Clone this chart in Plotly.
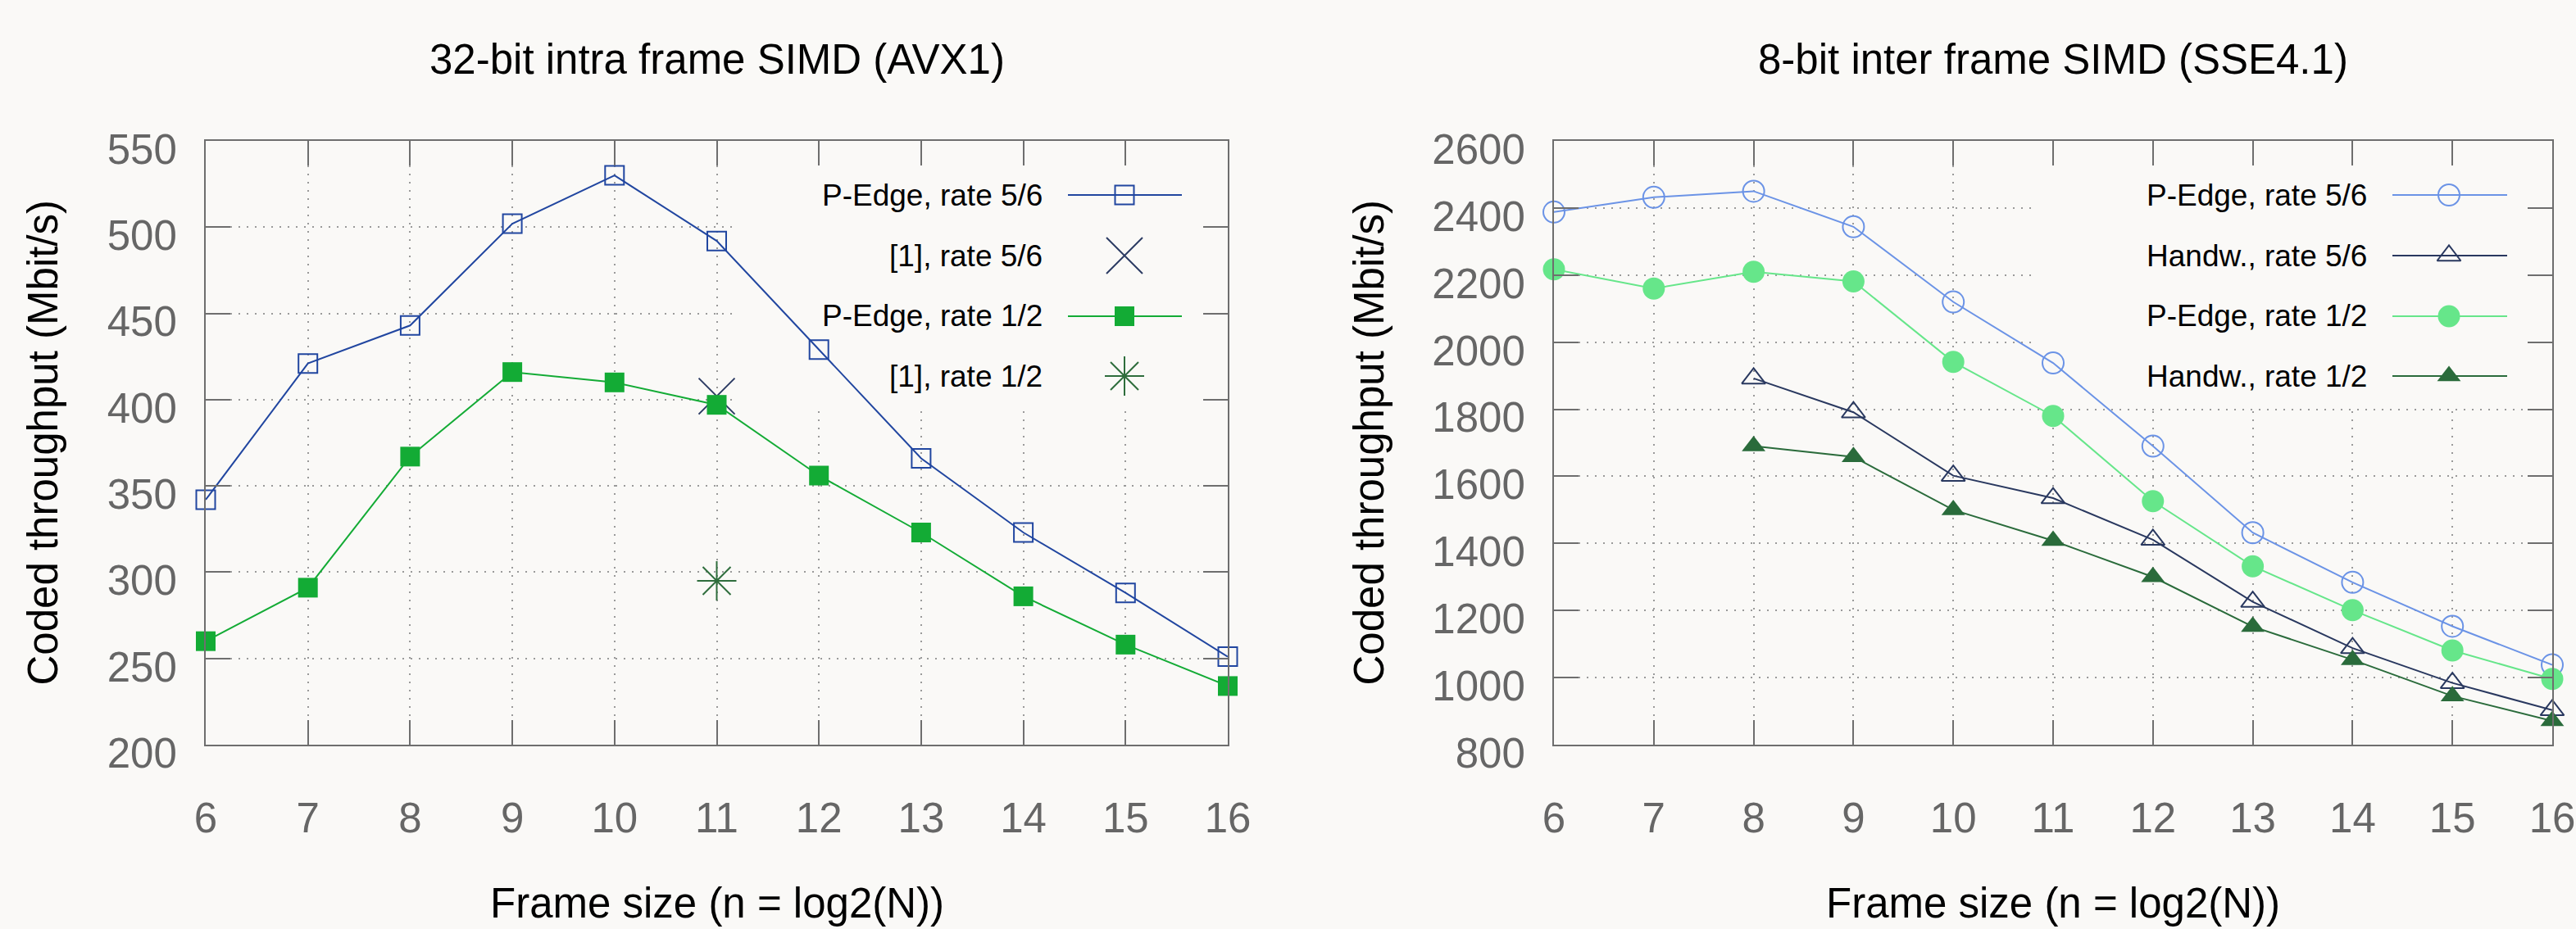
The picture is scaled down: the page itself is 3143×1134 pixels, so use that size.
import plotly.graph_objects as go

# ---------------- data ----------------
frame_sizes = [6, 7, 8, 9, 10, 11, 12, 13, 14, 15, 16]

# left chart: 32-bit intra frame SIMD (AVX1)
avx_pedge_56 = [342, 421, 443, 502, 530, 492, 429, 366, 323, 288, 251]
avx_pedge_12 = [260, 291, 367, 416, 410, 397, 356, 323, 286, 258, 234]
ref_x = [11]
ref_56 = [402]
ref_12 = [295]

# right chart: 8-bit inter frame SIMD (SSE4.1)
sse_pedge_56 = [2388, 2432, 2450, 2344, 2120, 1938, 1690, 1432, 1284, 1153, 1038]
sse_pedge_12 = [2217, 2160, 2210, 2181, 1941, 1780, 1526, 1332, 1201, 1081, 996]
handw_x = [8, 9, 10, 11, 12, 13, 14, 15, 16]
handw_56 = [1892, 1791, 1602, 1535, 1411, 1226, 1088, 984, 903]
handw_12 = [1690, 1658, 1500, 1408, 1300, 1152, 1053, 945, 871]

left_title = "32-bit intra frame SIMD (AVX1)"
right_title = "8-bit inter frame SIMD (SSE4.1)"
x_title = "Frame size (n = log2(N))"
y_title = "Coded throughput (Mbit/s)"

# ---------------- layout geometry (pixels) ----------------
W, H = 3143, 1134
BG = "#faf9f7"
AXC = "#6e6e6e"
FONT = "Liberation Sans, Arial, sans-serif"
L0, L1 = 251, 1498
R0, R1 = 1896, 3114
TOP, BOT = 172, 909
LY = (200, 550)
RY = (800, 2600)
XR = (6, 16)

def px(v):
    return v / W

def py(v):
    return 1 - v / H

left_series = [
    dict(name="P-Edge, rate 5/6", x=frame_sizes, y=avx_pedge_56, mode="lines+markers",
         color="#2146a0", symbol="square-open", size=23, mlw=2),
    dict(name="[1], rate 5/6", x=ref_x, y=ref_56, mode="markers",
         color="#2c3b63", symbol="x-thin-open", size=44, mlw=2),
    dict(name="P-Edge, rate 1/2", x=frame_sizes, y=avx_pedge_12, mode="lines+markers",
         color="#13ab35", symbol="square", size=24, mlw=0),
    dict(name="[1], rate 1/2", x=ref_x, y=ref_12, mode="markers",
         color="#2e6d3c", symbol="asterisk-open", size=40, mlw=2),
]
right_series = [
    dict(name="P-Edge, rate 5/6", x=frame_sizes, y=sse_pedge_56, mode="lines+markers",
         color="#6b93e6", symbol="circle-open", size=26, mlw=2),
    dict(name="Handw., rate 5/6", x=handw_x, y=handw_56, mode="lines+markers",
         color="#29385f", symbol="triangle-up-open", size=25, mlw=2),
    dict(name="P-Edge, rate 1/2", x=frame_sizes, y=sse_pedge_12, mode="lines+markers",
         color="#66e68a", symbol="circle", size=27, mlw=0),
    dict(name="Handw., rate 1/2", x=handw_x, y=handw_12, mode="lines+markers",
         color="#2a6b3b", symbol="triangle-up", size=25, mlw=0),
]

fig = go.Figure()

def add_series(s, xa, ya):
    fig.add_trace(go.Scatter(
        x=s["x"], y=s["y"], mode=s["mode"], name=s["name"],
        xaxis=xa, yaxis=ya, showlegend=False, cliponaxis=False,
        line=dict(color=s["color"], width=2),
        marker=dict(symbol=s["symbol"], size=s["size"], color=s["color"],
                    line=dict(color=s["color"], width=s["mlw"]))))

for s in left_series:
    add_series(s, "x", "y")
for s in right_series:
    add_series(s, "x2", "y2")

# ------------- gnuplot-like key (text left of sample) -------------
rows = [238, 312, 386, 459]
key_specs = [
    (left_series, 1274, 1303, 1442, 1372),
    (right_series, 2890, 2919, 3059, 2988),
]
annotations = []
for series, tx, lx0, lx1, mx in key_specs:
    for s, r in zip(series, rows):
        annotations.append(dict(x=px(tx), y=py(r), xref="paper", yref="paper",
                                text=s["name"], showarrow=False, xanchor="right",
                                yanchor="middle", font=dict(size=37, color="black", family=FONT)))
        if "lines" in s["mode"]:
            fig.add_trace(go.Scatter(x=[lx0, lx1], y=[r, r], mode="lines", xaxis="x3", yaxis="y3",
                                     showlegend=False, hoverinfo="skip",
                                     line=dict(color=s["color"], width=2)))
        fig.add_trace(go.Scatter(x=[mx], y=[r], mode="markers", xaxis="x3", yaxis="y3",
                                 showlegend=False, hoverinfo="skip", cliponaxis=False,
                                 marker=dict(symbol=s["symbol"], size=s["size"], color=s["color"],
                                             line=dict(color=s["color"], width=s["mlw"]))))

# titles
for cx, t in [((L0 + L1) / 2, left_title), ((R0 + R1) / 2, right_title)]:
    annotations.append(dict(x=px(cx), y=py(72), xref="paper", yref="paper", text=t,
                            showarrow=False, xanchor="center", yanchor="middle",
                            font=dict(size=51, color="black", family=FONT)))
    annotations.append(dict(x=px(cx), y=py(1102), xref="paper", yref="paper", text=x_title,
                            showarrow=False, xanchor="center", yanchor="middle",
                            font=dict(size=51, color="black", family=FONT)))
for cx in [52, 1670]:
    annotations.append(dict(x=px(cx), y=py((TOP + BOT) / 2), xref="paper", yref="paper",
                            text=y_title, textangle=-90, showarrow=False,
                            xanchor="center", yanchor="middle",
                            font=dict(size=51, color="black", family=FONT)))

common_axis = dict(showline=True, linecolor=AXC, linewidth=2, mirror="allticks",
                   ticks="inside", ticklen=30, tickwidth=2, tickcolor=AXC,
                   showgrid=True, gridcolor="#9a9a9a", gridwidth=1.5, griddash="2px,8px",
                   zeroline=False, automargin=False,
                   tickfont=dict(size=51, color="#666666", family=FONT))

def to_data(pix, p0, p1, d0, d1):
    return d0 + (pix - p0) / (p1 - p0) * (d1 - d0)

fig.update_layout(
    width=W, height=H, autosize=False,
    margin=dict(l=0, r=0, t=0, b=0, pad=0),
    paper_bgcolor=BG, plot_bgcolor="rgba(0,0,0,0)",
    showlegend=False,
    xaxis=dict(domain=[px(L0), px(L1)], range=list(XR), dtick=1, tick0=6, anchor="y",
               ticklabelstandoff=44, **common_axis),
    yaxis=dict(domain=[py(BOT), py(TOP)], range=list(LY), dtick=50, tick0=200, anchor="x",
               ticklabelstandoff=23, ticklabelshift=10, **common_axis),
    xaxis2=dict(domain=[px(R0), px(R1)], range=list(XR), dtick=1, tick0=6, anchor="y2",
                ticklabelstandoff=44, **common_axis),
    yaxis2=dict(domain=[py(BOT), py(TOP)], range=list(RY), dtick=200, tick0=800, anchor="x2",
                ticklabelstandoff=23, ticklabelshift=10, **common_axis),
    xaxis3=dict(domain=[0, 1], range=[0, W], visible=False, anchor="y3", fixedrange=True,
                automargin=False),
    yaxis3=dict(domain=[0, 1], range=[H, 0], visible=False, anchor="x3", fixedrange=True,
                automargin=False),
    annotations=annotations,
    shapes=[
        dict(type="rect", xref="x", yref="y", layer="between",
             x0=to_data(897, L0, L1, *XR), x1=XR[1],
             y0=to_data(500, BOT, TOP, *LY), y1=LY[1],
             fillcolor=BG, line=dict(width=0)),
        dict(type="rect", xref="x2", yref="y2", layer="between",
             x0=to_data(2483, R0, R1, *XR), x1=XR[1],
             y0=to_data(497, BOT, TOP, *RY), y1=RY[1],
             fillcolor=BG, line=dict(width=0)),
    ],
)

fig.write_html("out.html", config={"responsive": False, "displayModeBar": False},
               post_script="document.body.style.margin='0';document.body.style.overflow='hidden';")
